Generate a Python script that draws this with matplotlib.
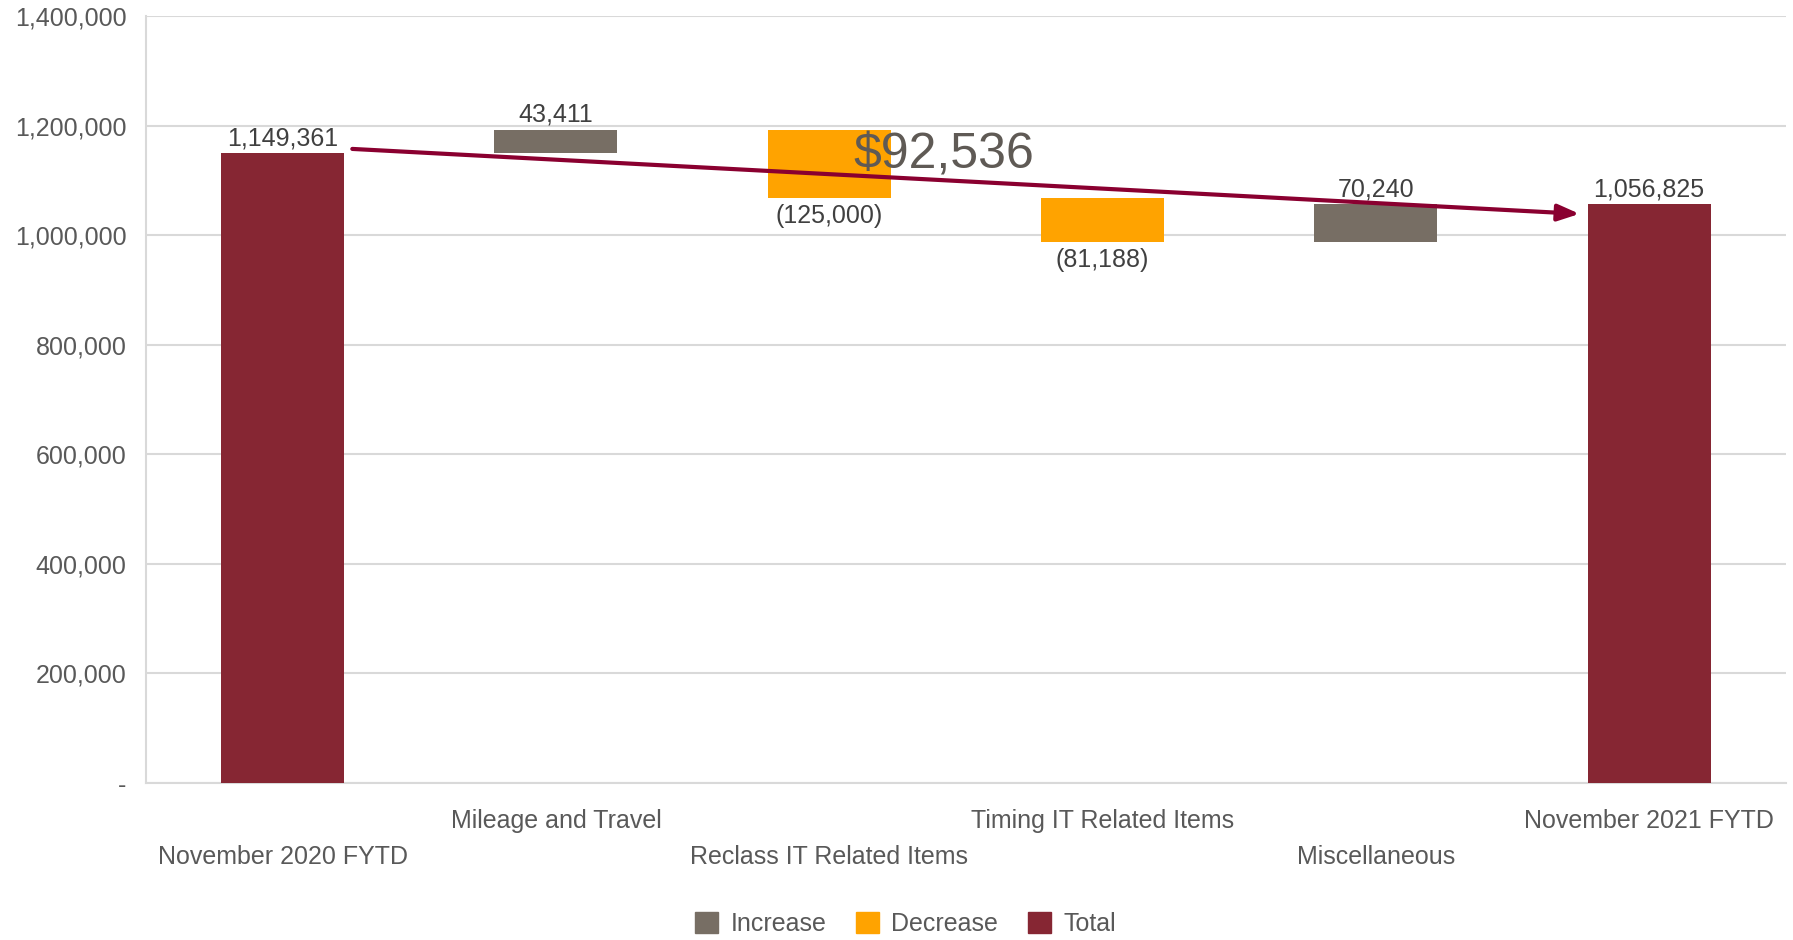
import numpy as np
import matplotlib
matplotlib.use("Agg")
import matplotlib.pyplot as plt
from matplotlib.patches import Patch

plt.rcParams['font.family'] = ['Liberation Sans', 'DejaVu Sans']

# данные водопада
categories = ["November 2020 FYTD", "Mileage and Travel", "Reclass IT Related Items",
              "Timing IT Related Items", "Miscellaneous", "November 2021 FYTD"]
start_total = 1149361
changes = [43411, -125000, -81188, 70240]
end_total = 1056825
y_ticks = [0, 200000, 400000, 600000, 800000, 1000000, 1200000, 1400000]

c_inc = "#776E64"
c_dec = "#FFA300"
c_tot = "#862633"
c_arrow = "#8A0030"
c_text = "#595959"
c_lbl = "#404040"

# считаем основания столбиков
bottoms, heights, colors, labels, above = [], [], [], [], []
bottoms.append(0); heights.append(start_total); colors.append(c_tot)
labels.append(f"{start_total:,}"); above.append(True)
level = start_total
for ch in changes:
    if ch >= 0:
        bottoms.append(level); heights.append(ch); colors.append(c_inc)
        labels.append(f"{ch:,}"); above.append(True)
    else:
        bottoms.append(level + ch); heights.append(-ch); colors.append(c_dec)
        labels.append(f"({-ch:,})"); above.append(False)
    level += ch
bottoms.append(0); heights.append(end_total); colors.append(c_tot)
labels.append(f"{end_total:,}"); above.append(True)

fig = plt.figure(figsize=(17.93, 9.40), dpi=100)
ax = fig.add_axes([0.0814, 0.167, 0.9146, 0.816])

x = np.arange(len(categories))
bw = 0.45
ax.bar(x, heights, bottom=bottoms, width=bw, color=colors, zorder=3)

fs = 18
for xi, b, h, lab, up in zip(x, bottoms, heights, labels, above):
    if up:
        ax.annotate(lab, (xi, b + h), xytext=(0, 2), textcoords="offset points",
                    ha="center", va="bottom", fontsize=fs, color=c_lbl)
    else:
        ax.annotate(lab, (xi, b), xytext=(0, -4), textcoords="offset points",
                    ha="center", va="top", fontsize=fs, color=c_lbl)

ax.set_xlim(-0.5, len(categories) - 0.5)
ax.set_ylim(0, 1400000)
ax.set_yticks(y_ticks)
ax.set_yticklabels(["-" if v == 0 else f"{v:,}" for v in y_ticks])
ax.tick_params(axis="y", length=0, pad=14, labelsize=fs, labelcolor=c_text)
ax.tick_params(axis="x", length=0, labelsize=fs, labelcolor=c_text)
ax.set_xticks(x)
ax.set_xticklabels(categories)
# подписи категорий в два ряда, как в Excel
for i, t in enumerate(ax.get_xticklabels()):
    t.set_y(-0.028 if i % 2 == 1 else -0.074)

ax.grid(axis="y", color="#d9d9d9", linewidth=1.5, zorder=0)
for s in ["top", "right"]:
    ax.spines[s].set_visible(False)
for s in ["left", "bottom"]:
    ax.spines[s].set_color("#d9d9d9")
    ax.spines[s].set_linewidth(1.5)

# стрелка разницы
diff = start_total - end_total
ax.annotate("", xy=(len(categories) - 1 - bw / 2 - 0.03, end_total - 18000),
            xytext=(bw / 2 + 0.03, start_total + 8000),
            arrowprops=dict(arrowstyle="-|>,head_length=1.3,head_width=0.5",
                            color=c_arrow, lw=3, shrinkA=0, shrinkB=0), zorder=5)
ax.text(2.42, start_total - 4000, f"${diff:,}", fontsize=36, color="#5f5a55",
        ha="center", va="center", zorder=6)

handles = [Patch(color=c_inc, label="Increase"), Patch(color=c_dec, label="Decrease"),
           Patch(color=c_tot, label="Total")]
fig.legend(handles=handles, loc="center", bbox_to_anchor=(0.505, 0.017), ncol=3,
           frameon=False, fontsize=fs, labelcolor=c_text, handlelength=0.9,
           handleheight=0.9, handletextpad=0.5, columnspacing=1.2)

fig.savefig("out.png", dpi=100)
